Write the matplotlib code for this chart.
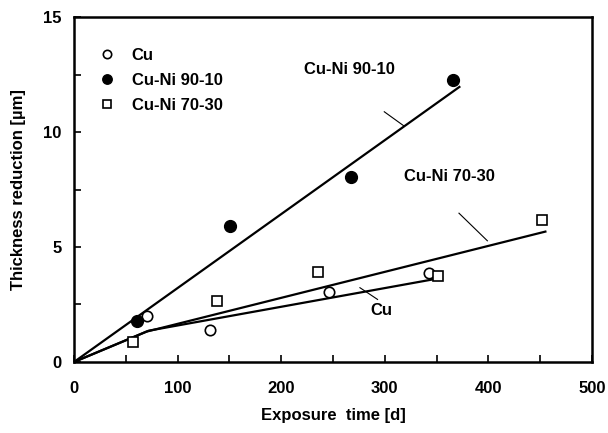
import numpy as np
import matplotlib.pyplot as plt
from matplotlib.ticker import MultipleLocator

plt.rcParams['font.family'] = ['Liberation Sans', 'DejaVu Sans']
plt.rcParams['font.weight'] = 'bold'

# measured points
cu_t = [70, 131, 246, 343]
cu_d = [2.01, 1.40, 3.06, 3.86]
cuni9010_t = [61, 151, 267, 366]
cuni9010_d = [1.78, 5.90, 8.06, 12.25]
cuni7030_t = [57, 138, 236, 351, 452]
cuni7030_d = [0.86, 2.65, 3.90, 3.74, 6.16]

# fitted curves
fit9010_t = [0, 372]
fit9010_d = [0, 11.96]
fit7030_t = [0, 70, 455]
fit7030_d = [0, 1.32, 5.67]
fitcu_t = [0, 72, 350]
fitcu_d = [0, 1.36, 3.62]

fig = plt.figure(figsize=(6.08, 4.33), dpi=100)
ax = fig.add_axes([0.1217, 0.164, 0.852, 0.7967])

lw = 1.6
ax.plot(fit9010_t, fit9010_d, color='k', lw=lw)
ax.plot(fit7030_t, fit7030_d, color='k', lw=lw)
ax.plot(fitcu_t, fitcu_d, color='k', lw=lw)

ax.plot(cu_t, cu_d, 'o', mfc='white', mec='k', mew=1.2, ms=7.5, label='Cu')
ax.plot(cuni9010_t, cuni9010_d, 'o', mfc='k', mec='k', ms=8.5, label='Cu-Ni 90-10')
ax.plot(cuni7030_t, cuni7030_d, 's', mfc='white', mec='k', mew=1.2, ms=7, label='Cu-Ni 70-30')

# curve labels with leader lines
fs = 12
ax.text(222, 12.7, 'Cu-Ni 90-10', fontsize=fs, fontweight='bold', va='center')
ax.plot([299.5, 318.6], [10.88, 10.26], color='k', lw=0.8)
ax.text(319, 8.06, 'Cu-Ni 70-30', fontsize=fs, fontweight='bold', va='center')
ax.plot([371.6, 399], [6.47, 5.27], color='k', lw=0.8)
ax.text(286, 2.22, 'Cu', fontsize=fs, fontweight='bold', va='center')
ax.plot([276, 293], [3.23, 2.72], color='k', lw=0.8)

ax.legend(loc='upper left', bbox_to_anchor=(0.015, 0.955), frameon=False,
          prop={'size': fs, 'weight': 'bold'}, handletextpad=0.9,
          labelspacing=0.6, handlelength=1.2, markerscale=0.8)

ax.set_xlim(0, 500)
ax.set_ylim(0, 15)
ax.xaxis.set_major_locator(MultipleLocator(100))
ax.xaxis.set_minor_locator(MultipleLocator(50))
ax.yaxis.set_major_locator(MultipleLocator(5))
ax.yaxis.set_minor_locator(MultipleLocator(2.5))
ax.tick_params(which='both', direction='in', length=5, width=1.2)
ax.tick_params(axis='x', pad=14, labelsize=fs)
ax.tick_params(axis='y', pad=9, labelsize=fs)
for s in ax.spines.values():
    s.set_linewidth(1.8)

ax.set_xlabel('Exposure  time [d]', fontsize=fs, fontweight='bold', labelpad=8)
ax.set_ylabel('Thickness reduction [\u00b5m]', fontsize=fs, fontweight='bold', labelpad=12)

fig.savefig('out.png', dpi=100)
